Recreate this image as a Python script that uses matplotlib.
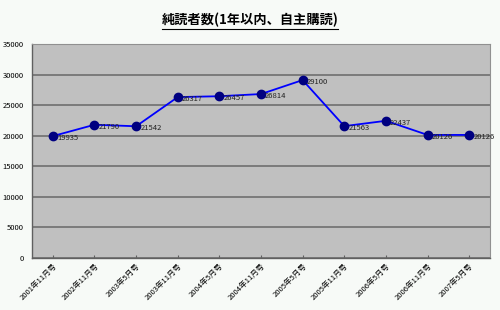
import matplotlib
matplotlib.use('Agg')
import matplotlib.pyplot as plt

plt.rcParams['font.family'] = ['Noto Sans CJK JP', 'DejaVu Sans']

# 号ごとの純読者数
categories = ['2001年11月号', '2002年11月号', '2003年5月号', '2003年11月号',
              '2004年5月号', '2004年11月号', '2005年5月号', '2005年11月号',
              '2006年5月号', '2006年11月号', '2007年5月号']
readers = [19935, 21790, 21542, 26317, 26457, 26814, 29100, 21563, 22437, 20126, 20126]
y_ticks = [0, 5000, 10000, 15000, 20000, 25000, 30000, 35000]

fig = plt.figure(figsize=(5, 3.1), dpi=100)
fig.patch.set_facecolor('#f7faf7')
ax = fig.add_axes([0.064, 0.168, 0.916, 0.69])
ax.set_facecolor('#c0c0c0')

x = list(range(len(categories)))
ax.plot(x, readers, color='#0000ff', lw=1.3, marker='o', ms=6,
        mfc='#000080', mec='#000080', zorder=3)
for xi, v in zip(x, readers):
    ax.annotate(str(v), (xi, v), xytext=(3, -1.5), textcoords='offset points',
                fontsize=5.5, color='#222222', va='center', ha='left', zorder=4)

ax.set_xlim(-0.5, len(categories) - 0.5)
ax.set_ylim(0, 35000)
ax.set_yticks(y_ticks)
ax.set_yticklabels([str(t) for t in y_ticks], fontsize=5.5)
ax.set_xticks(x)
ax.set_xticklabels(categories, rotation=45, ha='right', rotation_mode='anchor', fontsize=5.5)
ax.tick_params(axis='y', length=0, pad=6)
ax.tick_params(axis='x', length=2, pad=3, color='#606060', direction='in')
ax.yaxis.grid(True, color='#686868', lw=1.1)
ax.set_axisbelow(True)
for side in ['top', 'right']:
    ax.spines[side].set_color('#909090')
    ax.spines[side].set_linewidth(0.8)
for side in ['left', 'bottom']:
    ax.spines[side].set_color('#606060')
    ax.spines[side].set_linewidth(1.0)

t = fig.text(0.5, 0.935, '純読者数(1年以内、自主購読)', ha='center', va='center',
             fontsize=9.5, fontweight='bold')
# タイトルに下線
fig.canvas.draw()
bb = t.get_window_extent().transformed(fig.transFigure.inverted())
fig.add_artist(plt.Line2D([bb.x0, bb.x1], [bb.y0 - 0.005, bb.y0 - 0.005],
                          transform=fig.transFigure, color='black', lw=0.8))

fig.savefig('out.png', dpi=100, facecolor=fig.get_facecolor())
